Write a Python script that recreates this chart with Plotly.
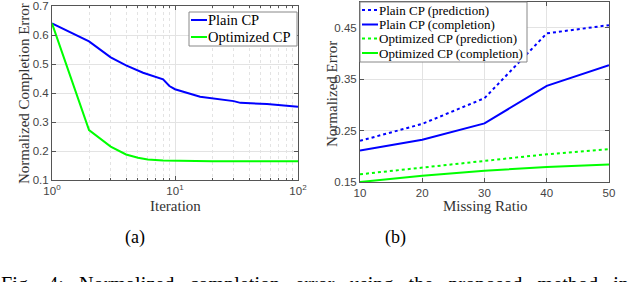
import plotly.graph_objects as go

# (a) convergence
iters = [1, 2, 3, 4, 5.5, 8, 9, 10, 16, 30, 34, 56, 100]
plain_iter = [0.64, 0.578, 0.523, 0.495, 0.47, 0.447, 0.424, 0.413, 0.387, 0.372, 0.366, 0.362, 0.353]
opt_iters = [1, 2, 3, 4, 5, 6, 8, 10, 20, 50, 100]
opt_iter = [0.64, 0.272, 0.215, 0.188, 0.177, 0.171, 0.167, 0.166, 0.165, 0.165, 0.165]

# (b) missing ratio
ratio = [10, 20, 30, 40, 50]
plain_pred = [0.230, 0.263, 0.313, 0.439, 0.455]
plain_comp = [0.211, 0.232, 0.264, 0.337, 0.377]
opt_pred = [0.165, 0.178, 0.192, 0.204, 0.214]
opt_comp = [0.150, 0.162, 0.172, 0.179, 0.184]

BLUE = "#0000ff"
GREEN = "#00ff00"
SERIF = "Liberation Serif, Times New Roman, serif"
SANS = "Liberation Sans, Arial, sans-serif"
AX = "#555555"
GRID = "#e3e3e3"

series_a = [("Plain CP", iters, plain_iter, BLUE, "solid"),
            ("Optimized CP", opt_iters, opt_iter, GREEN, "solid")]
series_b = [("Plain CP (prediction)", plain_pred, BLUE, "dot"),
            ("Plain CP (completion)", plain_comp, BLUE, "solid"),
            ("Optimized CP (prediction)", opt_pred, GREEN, "dot"),
            ("Optimized CP (completion)", opt_comp, GREEN, "solid")]

fig = go.Figure()
for name, xs, ys, col, dash in series_a:
    fig.add_trace(go.Scatter(x=xs, y=ys, mode="lines", name=name, showlegend=False,
                             line=dict(color=col, width=2, dash=dash), xaxis="x", yaxis="y"))
for name, ys, col, dash in series_b:
    fig.add_trace(go.Scatter(x=ratio, y=ys, mode="lines", name=name, showlegend=False,
                             line=dict(color=col, width=2, dash=dash), xaxis="x2", yaxis="y2"))

W, H = 640, 282
def px_x(p): return p / W
def px_y(p): return 1 - p / H

common_axis = dict(showline=True, linecolor=AX, linewidth=1, mirror="ticks", ticks="inside",
                   ticklen=4, tickcolor=AX, showgrid=True, gridcolor=GRID, zeroline=False,
                   automargin=False,
                   tickfont=dict(family=SANS, size=11.5, color="#444444"))

caption = "\u00a0\u00a0\u00a0".join("Fig. 4: Normalized completion error using the proposed method in".split(" "))

def label(text, x, y, angle=0, size=15, color="#333333", anchor="center", yanchor="middle"):
    return dict(text=text, x=px_x(x), y=px_y(y), xref="paper", yref="paper", showarrow=False,
                textangle=angle, xanchor=anchor, yanchor=yanchor,
                font=dict(family=SERIF, size=size, color=color))

annotations = [
    label("Normalized Completion Error", 24, 94, angle=-90),
    label("Iteration", 175, 206),
    label("Normalized Error", 332, 94, angle=-90),
    label("Missing Ratio", 485, 206),
    label("(a)", 135, 237, size=18, color="black"),
    label("(b)", 395, 237, size=18, color="black"),
    label(caption, -1, 271, size=20.2, color="black", anchor="left", yanchor="top"),
]
shapes = []

def legend_box(entries, box, sample_x, text_x, rows, size):
    x0, x1, y0, y1 = box
    shapes.append(dict(type="rect", xref="paper", yref="paper", x0=px_x(x0), x1=px_x(x1),
                       y0=px_y(y1), y1=px_y(y0), fillcolor="white",
                       line=dict(color="#888888", width=1), layer="above"))
    for (name, col, dash), ry in zip(entries, rows):
        shapes.append(dict(type="line", xref="paper", yref="paper", x0=px_x(sample_x[0]),
                           x1=px_x(sample_x[1]), y0=px_y(ry), y1=px_y(ry),
                           line=dict(color=col, width=2, dash=dash), layer="above"))
        annotations.append(label(name, text_x, ry, size=size, color="black", anchor="left"))

legend_box([(s[0], s[3], s[4]) for s in series_a], (189, 297, 12, 46), (191, 207), 206, [20, 37], 14.5)
legend_box([(s[0], s[2], s[3]) for s in series_b], (360, 527, 2, 62), (362, 378), 377, [10, 24.5, 38.5, 53], 13)

fig.update_layout(
    width=W, height=H, margin=dict(l=0, r=0, t=0, b=0, autoexpand=False),
    paper_bgcolor="white", plot_bgcolor="white", showlegend=False,
    xaxis=dict(common_axis, type="log", range=[0, 2], domain=[px_x(52), px_x(298)], anchor="y",
               tickvals=[1, 10, 100], ticktext=["10<sup>0</sup>", "10<sup>1</sup>", "10<sup>2</sup>"],
               minor=dict(dtick="D1", ticks="inside", ticklen=2, tickcolor=AX, showgrid=True,
                          gridcolor=GRID, griddash="dot")),
    yaxis=dict(common_axis, range=[0.1, 0.7], dtick=0.1, domain=[px_y(180), px_y(6)], anchor="x",
               tickformat=".1f"),
    xaxis2=dict(common_axis, range=[10, 50], dtick=10, domain=[px_x(360), px_x(609)], anchor="y2"),
    yaxis2=dict(common_axis, range=[0.15, 0.5], tickvals=[0.15, 0.25, 0.35, 0.45],
                domain=[px_y(182), px_y(2)], anchor="x2", tickformat=".2f"),
    annotations=annotations,
    shapes=shapes,
)

fig.write_html("out.html", config={"displayModeBar": False},
               post_script="document.body.style.margin='0px';")
